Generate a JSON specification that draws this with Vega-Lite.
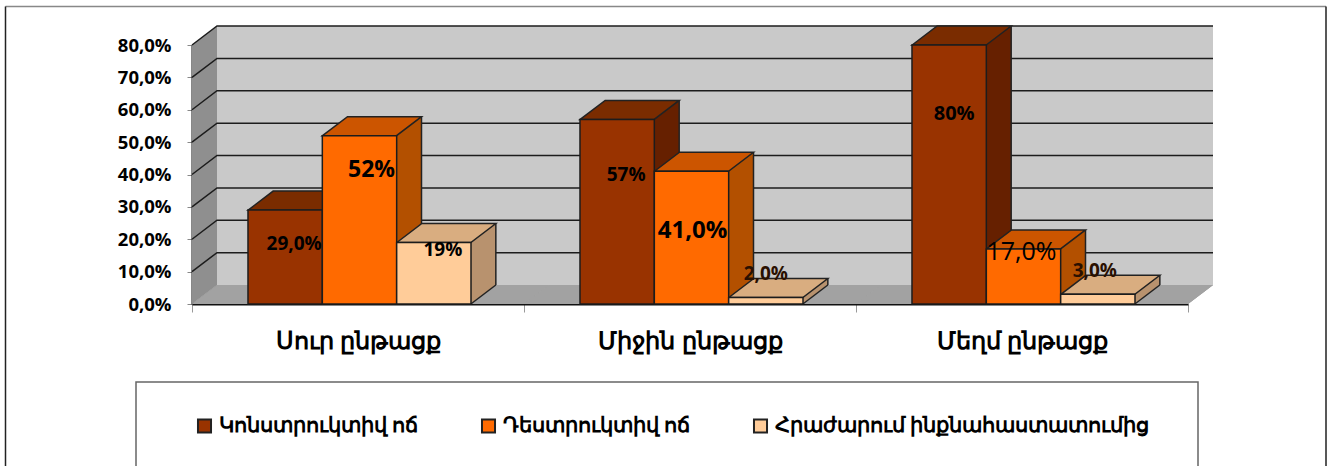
{
"$schema":"https://vega.github.io/schema/vega-lite/v6.json",
"width":996,"height":259,
"autosize":"none",
"padding":{"left":192,"top":45,"right":139,"bottom":162},
"background":"white",
"config":{"view":{"stroke":null},"font":"Open Sans",
"axisY":{"grid":false,"tickCount":9,"labelExpr":"replace(format(datum.value,'.1f'),'.',',')+'%'","labelFontSize":18.5,"labelFontWeight":"bold","labelColor":"#000","labelPadding":16,"tickColor":"#888","tickSize":5,"domainColor":"#111","domainWidth":2}},
"data":{"values":[
{"c":"Սուր ընթացք","s":"Կոնստրուկտիվ ոճ","v":29,"t":"29,0%"},
{"c":"Միջին ընթացք","s":"Կոնստրուկտիվ ոճ","v":57,"t":"57%"},
{"c":"Մեղմ ընթացք","s":"Կոնստրուկտիվ ոճ","v":80,"t":"80%"},
{"c":"Սուր ընթացք","s":"Դեստրուկտիվ ոճ","v":52,"t":"52%"},
{"c":"Միջին ընթացք","s":"Դեստրուկտիվ ոճ","v":41,"t":"41,0%"},
{"c":"Մեղմ ընթացք","s":"Դեստրուկտիվ ոճ","v":17,"t":"17,0%"},
{"c":"Սուր ընթացք","s":"Հրաժարում ինքնահաստատումից","v":19,"t":"19%"},
{"c":"Միջին ընթացք","s":"Հրաժարում ինքնահաստատումից","v":2,"t":"2,0%"},
{"c":"Մեղմ ընթացք","s":"Հրաժարում ինքնահաստատումից","v":3,"t":"3,0%"}
]},
"encoding":{
"x":{"field":"c","type":"nominal","sort":["Սուր ընթացք","Միջին ընթացք","Մեղմ ընթացք"],"scale":{"paddingInner":0,"paddingOuter":0},
"axis":{"title":null,"labelAngle":0,"labelFont":"Noto Sans","labelFontSize":23.5,"labelFontWeight":"bold","labelColor":"#000","labelPadding":17,"labelLimit":320,"tickBand":"extent","tickColor":"#999","tickSize":8,"domainColor":"#111","domainWidth":2}}
},
"layer":[
{"data":{"values":[{"k":"frame"}]},"mark":{"type":"point","filled":false,"opacity":1,"size":4,"shape":"M-684.5,-297.5L636,-297.5","stroke":"#888","strokeWidth":1.5},"encoding":{"x":{"datum":"Միջին ընթացք"},"y":{"datum":0,"type":"quantitative","scale":{"domain":[0,80],"nice":false},"axis":{"title":null}}}},
{"data":{"values":[{"k":"frame"}]},"mark":{"type":"point","filled":false,"opacity":1,"size":4,"shape":"M-684.5,170L-684.5,-297.5M636,-297.5L636,170","stroke":"#222","strokeWidth":1.5},"encoding":{"x":{"datum":"Միջին ընթացք"},"y":{"datum":0,"type":"quantitative","axis":{"title":null}}}},
{"data":{"values":[{"k":"box"}]},"mark":{"type":"point","filled":false,"opacity":1,"size":4,"shape":"M-554,170L-554,78L508,78L508,170","stroke":"#666","strokeWidth":1.5},"encoding":{"x":{"datum":"Միջին ընթացք"},"y":{"datum":0,"type":"quantitative","axis":{"title":null}}}},
{"mark":{"type":"bar","fill":"#c9c9c9","xOffset":25,"x2Offset":25,"yOffset":-19,"y2Offset":-19},"encoding":{"y":{"datum":0,"type":"quantitative","axis":{"title":null}},"y2":{"datum":80}}},
{"mark":{"type":"point","filled":true,"opacity":1,"size":4,"fill":"#a2a2a2","shape":"M-166,0L-141,-19L191,-19L166,0Z"},"encoding":{"y":{"datum":0,"type":"quantitative","axis":{"title":null}}}},
{"data":{"values":[{"k":"wall"}]},"mark":{"type":"point","filled":true,"opacity":1,"size":4,"fill":"#8f8f8f","shape":"M-498,0L-473,-19L-473,-278L-498,-259Z"},"encoding":{"x":{"datum":"Միջին ընթացք"},"y":{"datum":0,"type":"quantitative","axis":{"title":null}}}},
{"data":{"values":[{"g":10},{"g":20},{"g":30},{"g":40},{"g":50},{"g":60},{"g":70},{"g":80}]},"mark":{"type":"point","filled":false,"opacity":1,"size":4,"shape":"M-498,0L-473,-19L523,-19","stroke":"#1c1c1c","strokeWidth":1.5},"encoding":{"x":{"datum":"Միջին ընթացք"},"y":{"field":"g","type":"quantitative","axis":{"title":null}}}},
{"mark":{"type":"bar","yOffset":-19,"y2Offset":-19},"encoding":{
"xOffset":{"field":"s","sort":null,"scale":{"type":"band","paddingInner":0,"paddingOuter":0.733,"range":[26.5,358.5]}},
"y":{"field":"v","type":"quantitative","axis":{"title":null}},"y2":{"datum":0},
"fill":{"field":"s","sort":null,"legend":null,"scale":{"range":["#662000","#b35000","#b8926e"]}}}},
{"mark":{"type":"point","filled":true,"opacity":1,"size":4,"shape":"M37,0L62,-19L37,-19Z"},"encoding":{
"xOffset":{"field":"s","sort":null,"scale":{"type":"band","paddingInner":0,"paddingOuter":0.733,"range":[1.5,333.5]}},
"y":{"datum":0,"type":"quantitative","axis":{"title":null}},
"fill":{"field":"s","sort":null,"legend":null,"scale":{"range":["#662000","#b35000","#b8926e"]}}}},
{"mark":{"type":"point","filled":false,"opacity":1,"size":4,"shape":"M37,0L62,-19","stroke":"#222","strokeWidth":1.5},"encoding":{
"xOffset":{"field":"s","sort":null,"scale":{"type":"band","paddingInner":0,"paddingOuter":0.733,"range":[1.5,333.5]}},
"y":{"datum":0,"type":"quantitative","axis":{"title":null}}}},
{"mark":{"type":"rule","yOffset":-19,"y2Offset":-19,"stroke":"#222","strokeWidth":1.5},"encoding":{
"xOffset":{"field":"s","sort":null,"scale":{"type":"band","paddingInner":0,"paddingOuter":0.733,"range":[63.5,395.5]}},
"y":{"field":"v","type":"quantitative","axis":{"title":null}},"y2":{"datum":0}}},
{"mark":{"type":"point","filled":true,"opacity":1,"size":4,"shape":"M-37,0L-12,-19L62,-19L37,0Z","stroke":"#222","strokeWidth":1.5},"encoding":{
"xOffset":{"field":"s","sort":null,"scale":{"type":"band","paddingInner":0,"paddingOuter":0.733,"range":[1.5,333.5]}},
"y":{"field":"v","type":"quantitative","axis":{"title":null}},
"fill":{"field":"s","sort":null,"legend":null,"scale":{"range":["#7a2c00","#cc5500","#d9ad80"]}}}},
{"mark":{"type":"bar","stroke":"#1c1c1c","strokeWidth":1.5},"encoding":{
"xOffset":{"field":"s","sort":null,"scale":{"type":"band","paddingInner":0,"paddingOuter":0.733,"range":[1.5,333.5]}},
"y":{"field":"v","type":"quantitative","axis":{"title":null}},
"y2":{"datum":0},
"fill":{"field":"s","sort":null,"scale":{"range":["#993300","#ff6a00","#ffcc99"]},
"legend":{"orient":"none","legendX":2,"legendY":370,"title":null,"direction":"horizontal","columns":3,"symbolType":"square","symbolSize":170,"symbolStrokeColor":"#222","symbolStrokeWidth":2,"labelFont":"Noto Sans","labelFontSize":21,"labelFontWeight":"bold","labelColor":"#000","labelLimit":600,"columnPadding":58}}}},
{"transform":[{"filter":"datum.t=='29,0%'"}],"mark":{"type":"text","dx":9,"dy":34,"fontSize":19,"fontWeight":"bold","color":"#000"},"encoding":{"xOffset":{"field":"s","scale":{"type":"band","domain":["Կոնստրուկտիվ ոճ","Դեստրուկտիվ ոճ","Հրաժարում ինքնահաստատումից"],"paddingInner":0,"paddingOuter":0.733,"range":[1.5,333.5]}},"y":{"field":"v","type":"quantitative","axis":{"title":null}},"text":{"field":"t"}}},
{"transform":[{"filter":"datum.t=='52%'"}],"mark":{"type":"text","dx":12,"dy":34,"fontSize":23,"fontWeight":"bold","color":"#000"},"encoding":{"xOffset":{"field":"s","scale":{"type":"band","domain":["Կոնստրուկտիվ ոճ","Դեստրուկտիվ ոճ","Հրաժարում ինքնահաստատումից"],"paddingInner":0,"paddingOuter":0.733,"range":[1.5,333.5]}},"y":{"field":"v","type":"quantitative","axis":{"title":null}},"text":{"field":"t"}}},
{"transform":[{"filter":"datum.t=='19%'"}],"mark":{"type":"text","dx":9,"dy":8,"fontSize":19,"fontWeight":"bold","color":"#000"},"encoding":{"xOffset":{"field":"s","scale":{"type":"band","domain":["Կոնստրուկտիվ ոճ","Դեստրուկտիվ ոճ","Հրաժարում ինքնահաստատումից"],"paddingInner":0,"paddingOuter":0.733,"range":[1.5,333.5]}},"y":{"field":"v","type":"quantitative","axis":{"title":null}},"text":{"field":"t"}}},
{"transform":[{"filter":"datum.t=='57%'"}],"mark":{"type":"text","dx":9,"dy":56,"fontSize":19,"fontWeight":"bold","color":"#000"},"encoding":{"xOffset":{"field":"s","scale":{"type":"band","domain":["Կոնստրուկտիվ ոճ","Դեստրուկտիվ ոճ","Հրաժարում ինքնահաստատումից"],"paddingInner":0,"paddingOuter":0.733,"range":[1.5,333.5]}},"y":{"field":"v","type":"quantitative","axis":{"title":null}},"text":{"field":"t"}}},
{"transform":[{"filter":"datum.t=='41,0%'"}],"mark":{"type":"text","dx":1,"dy":60,"fontSize":24,"fontWeight":"bold","color":"#000"},"encoding":{"xOffset":{"field":"s","scale":{"type":"band","domain":["Կոնստրուկտիվ ոճ","Դեստրուկտիվ ոճ","Հրաժարում ինքնահաստատումից"],"paddingInner":0,"paddingOuter":0.733,"range":[1.5,333.5]}},"y":{"field":"v","type":"quantitative","axis":{"title":null}},"text":{"field":"t"}}},
{"transform":[{"filter":"datum.t=='2,0%'"}],"mark":{"type":"text","dx":0,"dy":-24,"fontSize":19,"fontWeight":"bold","color":"#2a1000"},"encoding":{"xOffset":{"field":"s","scale":{"type":"band","domain":["Կոնստրուկտիվ ոճ","Դեստրուկտիվ ոճ","Հրաժարում ինքնահաստատումից"],"paddingInner":0,"paddingOuter":0.733,"range":[1.5,333.5]}},"y":{"field":"v","type":"quantitative","axis":{"title":null}},"text":{"field":"t"}}},
{"transform":[{"filter":"datum.t=='80%'"}],"mark":{"type":"text","dx":5,"dy":69,"fontSize":20,"fontWeight":"bold","color":"#000"},"encoding":{"xOffset":{"field":"s","scale":{"type":"band","domain":["Կոնստրուկտիվ ոճ","Դեստրուկտիվ ոճ","Հրաժարում ինքնահաստատումից"],"paddingInner":0,"paddingOuter":0.733,"range":[1.5,333.5]}},"y":{"field":"v","type":"quantitative","axis":{"title":null}},"text":{"field":"t"}}},
{"transform":[{"filter":"datum.t=='17,0%'"}],"mark":{"type":"text","dx":-2,"dy":3,"fontSize":25,"fontWeight":500,"color":"#000"},"encoding":{"xOffset":{"field":"s","scale":{"type":"band","domain":["Կոնստրուկտիվ ոճ","Դեստրուկտիվ ոճ","Հրաժարում ինքնահաստատումից"],"paddingInner":0,"paddingOuter":0.733,"range":[1.5,333.5]}},"y":{"field":"v","type":"quantitative","axis":{"title":null}},"text":{"field":"t"}}},
{"transform":[{"filter":"datum.t=='3,0%'"}],"mark":{"type":"text","dx":-3,"dy":-23,"fontSize":19,"fontWeight":"bold","color":"#2a1000"},"encoding":{"xOffset":{"field":"s","scale":{"type":"band","domain":["Կոնստրուկտիվ ոճ","Դեստրուկտիվ ոճ","Հրաժարում ինքնահաստատումից"],"paddingInner":0,"paddingOuter":0.733,"range":[1.5,333.5]}},"y":{"field":"v","type":"quantitative","axis":{"title":null}},"text":{"field":"t"}}}
],
"resolve":{"scale":{"fill":"independent","xOffset":"independent"}}
}
